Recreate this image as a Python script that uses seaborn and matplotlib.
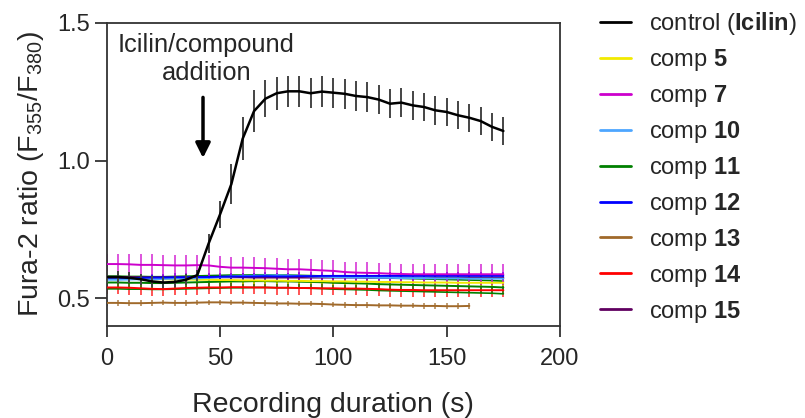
import numpy as np
import pandas as pd
import matplotlib
matplotlib.use("Agg")
import matplotlib.pyplot as plt
import seaborn as sns

# time points (s)
t_all = list(range(0, 180, 5))     # 0..175
t_brown = list(range(0, 165, 5))   # 0..160

control = [0.578, 0.578, 0.575, 0.570, 0.562, 0.558, 0.560, 0.568, 0.585, 0.700,
           0.805, 0.915, 1.080, 1.180, 1.225, 1.245, 1.252, 1.252, 1.245, 1.251,
           1.247, 1.243, 1.235, 1.231, 1.222, 1.207, 1.211, 1.201, 1.195, 1.183,
           1.177, 1.165, 1.156, 1.144, 1.123, 1.108]
control_err = [0.02, 0.02, 0.02, 0.02, 0.02, 0.02, 0.02, 0.02, 0.02, 0.035,
               0.05, 0.072, 0.078, 0.075, 0.068, 0.06, 0.057, 0.056, 0.055, 0.055,
               0.055, 0.054, 0.054, 0.054, 0.053, 0.053, 0.053, 0.052, 0.052, 0.052,
               0.051, 0.051, 0.05, 0.05, 0.05, 0.05]
comp5 = [0.572, 0.572, 0.571, 0.571, 0.570, 0.570, 0.569, 0.569, 0.568, 0.568,
         0.567, 0.567, 0.566, 0.566, 0.565, 0.565, 0.564, 0.564, 0.563, 0.563,
         0.562, 0.562, 0.561, 0.561, 0.560, 0.560, 0.559, 0.559, 0.558, 0.558,
         0.558, 0.557, 0.557, 0.557, 0.557, 0.557]
comp7 = [0.625, 0.625, 0.624, 0.622, 0.622, 0.621, 0.620, 0.620, 0.621, 0.620,
         0.615, 0.612, 0.612, 0.611, 0.610, 0.608, 0.606, 0.606, 0.604, 0.602,
         0.600, 0.596, 0.594, 0.593, 0.592, 0.590, 0.589, 0.588, 0.588, 0.588,
         0.588, 0.588, 0.588, 0.588, 0.588, 0.588]
comp10 = [0.568, 0.568, 0.569, 0.570, 0.570, 0.571, 0.572, 0.572, 0.573, 0.575,
          0.578, 0.580, 0.582, 0.583, 0.584, 0.584, 0.583, 0.582, 0.580, 0.579,
          0.578, 0.577, 0.576, 0.576, 0.575, 0.575, 0.574, 0.574, 0.574, 0.573,
          0.573, 0.573, 0.572, 0.572, 0.572, 0.572]
comp11 = [0.558, 0.558, 0.557, 0.557, 0.556, 0.556, 0.557, 0.558, 0.559, 0.560,
          0.561, 0.562, 0.562, 0.563, 0.563, 0.562, 0.562, 0.561, 0.560, 0.559,
          0.557, 0.556, 0.555, 0.554, 0.552, 0.551, 0.550, 0.549, 0.548, 0.547,
          0.546, 0.545, 0.544, 0.543, 0.542, 0.540]
comp12 = [0.575, 0.575, 0.574, 0.575, 0.576, 0.576, 0.577, 0.577, 0.578, 0.578,
          0.579, 0.580, 0.580, 0.580, 0.581, 0.580, 0.580, 0.581, 0.581, 0.582,
          0.582, 0.582, 0.582, 0.582, 0.582, 0.582, 0.582, 0.582, 0.582, 0.582,
          0.582, 0.582, 0.582, 0.582, 0.582, 0.582]
comp13 = [0.484, 0.484, 0.483, 0.483, 0.484, 0.485, 0.484, 0.484, 0.485, 0.486,
          0.486, 0.485, 0.485, 0.484, 0.483, 0.482, 0.482, 0.481, 0.481, 0.480,
          0.478, 0.477, 0.476, 0.476, 0.475, 0.475, 0.474, 0.474, 0.473, 0.473,
          0.472, 0.472, 0.473]
comp14 = [0.540, 0.540, 0.539, 0.537, 0.535, 0.534, 0.536, 0.538, 0.539, 0.540,
          0.540, 0.541, 0.541, 0.540, 0.540, 0.539, 0.539, 0.538, 0.538, 0.537,
          0.537, 0.536, 0.536, 0.535, 0.534, 0.532, 0.531, 0.531, 0.530, 0.530,
          0.530, 0.530, 0.530, 0.530, 0.530, 0.530]
comp15 = [0.578, 0.578, 0.578, 0.577, 0.577, 0.577, 0.577, 0.577, 0.577, 0.577,
          0.577, 0.577, 0.577, 0.576, 0.576, 0.576, 0.576, 0.576, 0.576, 0.576,
          0.576, 0.576, 0.576, 0.575, 0.575, 0.575, 0.575, 0.575, 0.575, 0.575,
          0.575, 0.575, 0.575, 0.575, 0.575, 0.575]

# error half-widths per compound (roughly constant)
comp_err = {"5": 0.012, "7": 0.038, "10": 0.01, "11": 0.023, "12": 0.014,
            "13": 0.01, "14": 0.025, "15": 0.01}

labels = ["control ($\\mathbf{Icilin}$)", "comp $\\mathbf{5}$", "comp $\\mathbf{7}$",
          "comp $\\mathbf{10}$", "comp $\\mathbf{11}$", "comp $\\mathbf{12}$",
          "comp $\\mathbf{13}$", "comp $\\mathbf{14}$", "comp $\\mathbf{15}$"]
colors = ["#000000", "#f2ea00", "#cc00cc", "#4da6ff", "#008000", "#0000ff",
          "#a0692a", "#ff0000", "#600060"]

sns.set_style("ticks")
plt.rcParams["font.family"] = ["Liberation Sans", "DejaVu Sans"]
plt.rcParams["mathtext.fontset"] = "custom"
plt.rcParams["mathtext.rm"] = "Liberation Sans"
plt.rcParams["mathtext.bf"] = "Liberation Sans:bold"
plt.rcParams["mathtext.it"] = "Liberation Sans:italic"
plt.rcParams["mathtext.default"] = "regular"

series = [
    (labels[0], t_all, control, control_err),
    (labels[1], t_all, comp5, [comp_err["5"]] * len(t_all)),
    (labels[2], t_all, comp7, [comp_err["7"]] * len(t_all)),
    (labels[3], t_all, comp10, [comp_err["10"]] * len(t_all)),
    (labels[4], t_all, comp11, [comp_err["11"]] * len(t_all)),
    (labels[5], t_all, comp12, [comp_err["12"]] * len(t_all)),
    (labels[6], t_brown, comp13, [comp_err["13"]] * len(t_brown)),
    (labels[7], t_all, comp14, [comp_err["14"]] * len(t_all)),
    (labels[8], t_all, comp15, [comp_err["15"]] * len(t_all)),
]

rows = []
for name, t, y, e in series:
    for ti, yi, ei in zip(t, y, e):
        rows.append({"time": ti, "ratio": yi, "err": ei, "series": name})
df = pd.DataFrame(rows)
pal = dict(zip(labels, colors))

fig = plt.figure(figsize=(8.05, 4.18), dpi=100)
ax = fig.add_axes([0.1325, 0.22, 0.6957 - 0.1325, 0.945 - 0.22])

# draw compounds first (brown at the back), control on top
draw_order = [labels[6], labels[7], labels[4], labels[1], labels[8], labels[3],
              labels[5], labels[2]]
for name in draw_order:
    d = df[df["series"] == name]
    c = pal[name]
    ax.errorbar(d["time"], d["ratio"], yerr=d["err"], fmt="none", ecolor=c,
                elinewidth=1.1, capsize=0, alpha=0.85, zorder=2)
    if name == labels[4]:
        # comp 11 drawn with its error limits joined
        ax.plot(d["time"], d["ratio"] + d["err"], color=c, lw=1.2, zorder=2)
        ax.plot(d["time"], d["ratio"] - d["err"], color=c, lw=1.2, zorder=2)

sns.lineplot(data=df[df["series"] != labels[0]], x="time", y="ratio",
             hue="series", palette=pal, hue_order=draw_order, lw=1.4,
             ax=ax, legend=False, zorder=3)

d = df[df["series"] == labels[0]]
ax.errorbar(d["time"], d["ratio"], yerr=d["err"], fmt="none", ecolor="#444444",
            elinewidth=1.4, capsize=0, zorder=4)
sns.lineplot(data=d, x="time", y="ratio", color="black", lw=1.8, ax=ax,
             legend=False, zorder=5)

ax.set_xlim(0, 200)
ax.set_ylim(0.4, 1.5)
ax.set_xticks([0, 50, 100, 150, 200])
ax.set_yticks([0.5, 1.0, 1.5])
ax.set_yticklabels(["0.5", "1.0", "1.5"])
ax.tick_params(axis="both", labelsize=17, width=1.3, color="#333333")
ax.tick_params(axis="x", length=8, pad=8)
ax.tick_params(axis="y", length=9, pad=3)
for s in ax.spines.values():
    s.set_color("#333333")
    s.set_linewidth(1.3)
ax.set_xlabel("Recording duration (s)", fontsize=20.5, labelpad=16)
ax.set_ylabel("Fura-2 ratio (F$_{355}$/F$_{380}$)", fontsize=20.5, labelpad=8)

ax.annotate("", xy=(42.5, 1.0), xytext=(42.5, 1.24),
            arrowprops=dict(arrowstyle="-|>", color="black", lw=2.5,
                            mutation_scale=22))
ax.text(44, 1.37, "Icilin/compound\naddition", ha="center", va="center",
        fontsize=18.3, linespacing=1.2)

handles = [plt.Line2D([], [], color=c, lw=2) for c in colors]
fig.legend(handles, labels, loc="upper left", bbox_to_anchor=(0.725, 1.015),
           frameon=False, fontsize=17, handlelength=1.3, handletextpad=0.75,
           labelspacing=0.42, borderpad=0.2)

fig.savefig("out.png", dpi=100)
